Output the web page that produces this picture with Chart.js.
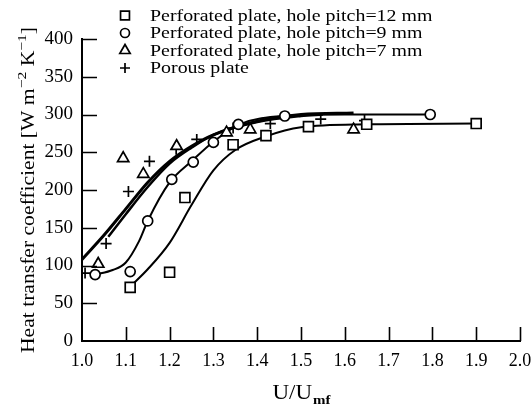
<!DOCTYPE html>
<html>
<head>
<meta charset="utf-8">
<script src="https://cdn.jsdelivr.net/npm/chart.js@4/dist/chart.umd.min.js"></script>
<style>
	body { margin: 0; background: #fff; }
	#wrap { width: 531px; height: 409px; }
</style>
</head>
<body>
<div id="wrap"><canvas id="chart" width="531" height="409"></canvas></div>
<script>
var sq12X = [1.11, 1.20, 1.235, 1.345, 1.42, 1.517, 1.65, 1.90];
var sq12Y = [71, 91, 190, 260, 272, 284, 287, 288];

var ci9X = [1.03, 1.11, 1.15, 1.205, 1.254, 1.30, 1.357, 1.463, 1.795];
var ci9Y = [88, 92, 159, 214, 237, 263, 287, 298, 300];

var tr7X = [1.037, 1.094, 1.14, 1.216, 1.33, 1.384, 1.62];
var tr7Y = [102, 242, 221, 258, 276, 280, 280];

var poX = [1.007, 1.055, 1.106, 1.154, 1.215, 1.262, 1.345, 1.43, 1.545, 1.645];
var poY = [90, 129, 198, 238, 254, 267, 282, 288, 294, 292];

// fitted curves drawn in the figure
var fit12X = [1.11, 1.15, 1.20, 1.25, 1.30, 1.35, 1.42, 1.50, 1.65, 1.90];
var fit12Y = [72, 95, 130, 180, 226, 253, 271, 283, 287, 288];

var fit9X = [1.03, 1.07, 1.10, 1.13, 1.15, 1.20, 1.25, 1.30, 1.36, 1.46, 1.60, 1.80];
var fit9Y = [88, 94, 104, 132, 159, 210, 238, 264, 287, 298, 300, 300];

var fit7X = [1.0, 1.05, 1.10, 1.15, 1.20, 1.25, 1.30, 1.40, 1.50, 1.62];
var fit7Y = [108, 140, 175, 210, 238, 258, 273, 291, 300, 302];

var fitPoX = [1.06, 1.10, 1.15, 1.20, 1.25, 1.30, 1.40, 1.50, 1.55];
var fitPoY = [138, 168, 204, 235, 256, 273, 290, 298, 300];

var legendLabels = [
	'Perforated plate, hole pitch=12 mm',
	'Perforated plate, hole pitch=9 mm',
	'Perforated plate, hole pitch=7 mm',
	'Porous plate'
];
var markerStyles = ['rect', 'circle', 'triangle', 'cross'];
var markerSizes = [7, 5, 6.5, 5.5];
var legendSizes = [6.3, 4.5, 6, 5];

var xTicks = [1.0, 1.1, 1.2, 1.3, 1.4, 1.5, 1.6, 1.7, 1.8, 1.9, 2.0];
var yTicks = [0, 50, 100, 150, 200, 250, 300, 350, 400];

var FONT = '"Liberation Serif", "Times New Roman", serif';

function pts(xs, ys) {
	return xs.map(function (x, i) { return { x: x, y: ys[i] }; });
}

function markerSet(i, xs, ys) {
	return {
		label: legendLabels[i],
		data: pts(xs, ys),
		showLine: false,
		pointStyle: markerStyles[i],
		pointRadius: markerSizes[i],
		pointBorderWidth: 1.7,
		pointBorderColor: '#000',
		pointBackgroundColor: '#fff'
	};
}

function curveSet(xs, ys, w) {
	return {
		data: pts(xs, ys),
		showLine: true,
		borderColor: '#000',
		borderWidth: w,
		pointRadius: 0,
		cubicInterpolationMode: 'monotone',
		fill: false
	};
}

// text stretched sideways a little, the scanned font is wide
function wideText(ctx, txt, x, y, sx) {
	ctx.save();
	ctx.translate(x, y);
	ctx.scale(sx, 1);
	ctx.fillText(txt, 0, 0);
	ctx.restore();
}

// inward tick marks, legend and axis titles
var decorations = {
	id: 'decorations',
	afterDraw: function (chart) {
		var ctx = chart.ctx;
		var a = chart.chartArea;
		var xs = chart.scales.x, ys = chart.scales.y;
		ctx.save();
		ctx.strokeStyle = '#000';
		ctx.lineWidth = 1.6;
		ctx.beginPath();
		yTicks.forEach(function (v) {
			if (v === 0) return;
			var py = Math.round(ys.getPixelForValue(v)) + 0.5;
			ctx.moveTo(a.left, py);
			ctx.lineTo(a.left + 15, py);
		});
		xTicks.forEach(function (v) {
			if (v === 1.0) return;
			var px = Math.round(xs.getPixelForValue(v)) + 0.5;
			ctx.moveTo(px, a.bottom);
			ctx.lineTo(px, a.bottom - 14);
		});
		ctx.stroke();

		// legend
		ctx.font = '17px ' + FONT;
		ctx.textBaseline = 'middle';
		ctx.textAlign = 'left';
		for (var i = 0; i < legendLabels.length; i++) {
			var ry = 15.5 + i * 17.5;
			ctx.fillStyle = '#fff';
			ctx.lineWidth = 1.7;
			Chart.helpers.drawPoint(ctx, {
				pointStyle: markerStyles[i],
				radius: legendSizes[i],
				rotation: 0,
				borderWidth: 1.7
			}, 125, ry);
			ctx.fillStyle = '#000';
			wideText(ctx, legendLabels[i], 150, ry + 1, 1.17);
		}

		// x title with subscript
		var cx = (a.left + a.right) / 2;
		var sx = 1.15;
		ctx.textBaseline = 'alphabetic';
		ctx.font = '20px ' + FONT;
		var w1 = ctx.measureText('U/U').width * sx;
		ctx.font = 'bold 13px ' + FONT;
		var w2 = ctx.measureText('mf').width * sx;
		var x0 = cx - (w1 + w2) / 2;
		ctx.font = '20px ' + FONT;
		wideText(ctx, 'U/U', x0, 399, sx);
		ctx.font = 'bold 13px ' + FONT;
		wideText(ctx, 'mf', x0 + w1 + 1, 404, sx);

		// y title with superscripts
		var parts = [
			['Heat transfer coefficient [W m', 0],
			['\u22122', 1],
			[' K', 0],
			['\u22121', 1],
			[']', 0]
		];
		var sy = 1.2;
		var total = 0;
		parts.forEach(function (p) {
			ctx.font = (p[1] ? '13px ' : '18px ') + FONT;
			p.push(ctx.measureText(p[0]).width * sy);
			total += p[2];
		});
		ctx.translate(34, (a.top + a.bottom) / 2);
		ctx.rotate(-Math.PI / 2);
		var tx = -total / 2;
		parts.forEach(function (p) {
			ctx.font = (p[1] ? '13px ' : '18px ') + FONT;
			wideText(ctx, p[0], tx, p[1] ? -8 : 0, sy);
			tx += p[2];
		});
		ctx.restore();
	}
};

var chart = new Chart(document.getElementById('chart').getContext('2d'), {
	type: 'scatter',
	data: {
		datasets: [
			markerSet(0, sq12X, sq12Y),
			markerSet(1, ci9X, ci9Y),
			markerSet(2, tr7X, tr7Y),
			markerSet(3, poX, poY),
			curveSet(fit12X, fit12Y, 2),
			curveSet(fit9X, fit9Y, 2),
			curveSet(fit7X, fit7Y, 3),
			curveSet(fitPoX, fitPoY, 2.5)
		]
	},
	options: {
		responsive: false,
		animation: false,
		layout: { padding: { top: 39, right: 11, left: 0, bottom: 0 } },
		plugins: {
			legend: { display: false },
			tooltip: { enabled: false }
		},
		scales: {
			x: {
				type: 'linear',
				min: 1.0,
				max: 2.0,
				afterFit: function (s) {
					s.height = 68;
					s.paddingLeft = 0;
					s.paddingRight = 0;
				},
				afterBuildTicks: function (s) {
					s.ticks = xTicks.map(function (v) { return { value: v }; });
				},
				grid: { display: false, drawTicks: false },
				border: { display: true, color: '#000', width: 2 },
				ticks: {
					color: '#000',
					padding: 9,
					maxRotation: 0,
					font: { family: FONT, size: 18 },
					callback: function (v) { return Number(v).toFixed(1); }
				}
			},
			y: {
				type: 'linear',
				min: 0,
				max: 400,
				afterFit: function (s) {
					s.width = 82;
					s.paddingTop = 0;
					s.paddingBottom = 0;
				},
				afterBuildTicks: function (s) {
					s.ticks = yTicks.map(function (v) { return { value: v }; });
				},
				grid: { display: false, drawTicks: false },
				border: { display: true, color: '#000', width: 2 },
				ticks: {
					color: '#000',
					padding: 9,
					font: { family: FONT, size: 19 }
				}
			}
		}
	},
	plugins: [decorations]
});
</script>
</body>
</html>
